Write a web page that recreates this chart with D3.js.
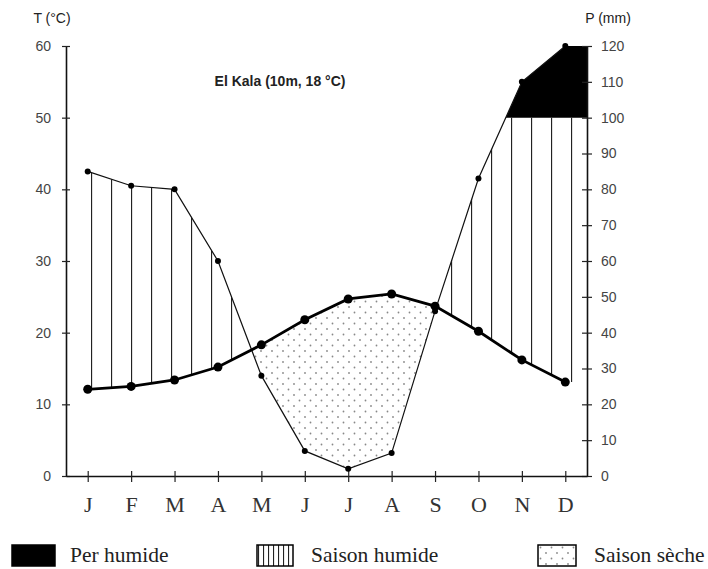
<!DOCTYPE html>
<html>
<head>
<meta charset="utf-8">
<script src="https://cdn.jsdelivr.net/npm/d3@7"></script>
<style>
  body { margin: 0; background: #fff; }
</style>
</head>
<body>
<div id="chart"></div>
<script>
let months = ['J', 'F', 'M', 'A', 'M', 'J', 'J', 'A', 'S', 'O', 'N', 'D']
let temperature = [12.1, 12.5, 13.4, 15.2, 18.3, 21.8, 24.7, 25.4, 23.7, 20.2, 16.2, 13.1]
let precipitation = [85, 81, 80, 60, 28, 7, 2, 6.4, 46, 83, 110, 120]
let tempTicks = [0, 10, 20, 30, 40, 50, 60]
let rainTicks = [0, 10, 20, 30, 40, 50, 60, 70, 80, 90, 100, 110, 120]
let legendLabels = ['Per humide', 'Saison humide', 'Saison sèche']

let sans = "'Liberation Sans', Arial, sans-serif"
let serif = "'Liberation Serif', 'Times New Roman', serif"

let margin = { top: 46, left: 66, right: 121, bottom: 93 }
let width = 708 - margin.left - margin.right
let height = 569 - margin.top - margin.bottom

let svg = d3
  .select('#chart')
  .append('svg')
  .attr('width', width + margin.left + margin.right)
  .attr('height', height + margin.top + margin.bottom)
  .style('font-family', sans)

let defs = svg.append('defs')

let g = svg.append('g').attr('transform', `translate(${margin.left},${margin.top})`)

let xScale = d3.scaleLinear().domain([-0.5, 11.5]).range([0, width])
let yTemp = d3.scaleLinear().domain([0, 60]).range([height, 0])
let yRain = d3.scaleLinear().domain([0, 120]).range([height, 0])

let points = months.map((m, i) => {
  return { i: i, t: temperature[i], p: precipitation[i] }
})
// fills run on to the right axis
let fillPoints = points.concat([
  { i: xScale.domain()[1], t: temperature[11], p: precipitation[11] }
])

// patterns
let hatch = defs
  .append('pattern')
  .attr('id', 'hatch')
  .attr('patternUnits', 'userSpaceOnUse')
  .attr('x', 25)
  .attr('width', 20)
  .attr('height', 10)
hatch
  .append('line')
  .attr('x1', 0.5)
  .attr('x2', 0.5)
  .attr('y1', 0)
  .attr('y2', 10)
  .attr('stroke', '#222')
  .attr('stroke-width', 1.3)

let hatchSmall = defs
  .append('pattern')
  .attr('id', 'hatch-small')
  .attr('patternUnits', 'userSpaceOnUse')
  .attr('x', 1)
  .attr('width', 5)
  .attr('height', 10)
hatchSmall
  .append('line')
  .attr('x1', 0.5)
  .attr('x2', 0.5)
  .attr('y1', 0)
  .attr('y2', 10)
  .attr('stroke', '#222')
  .attr('stroke-width', 1.2)

let dots = defs
  .append('pattern')
  .attr('id', 'dots')
  .attr('patternUnits', 'userSpaceOnUse')
  .attr('width', 11)
  .attr('height', 11)
dots
  .selectAll('circle')
  .data([[2.5, 2.5], [8, 8]])
  .enter()
  .append('circle')
  .attr('cx', d => d[0])
  .attr('cy', d => d[1])
  .attr('r', 0.9)
  .attr('fill', '#888')

// clip paths
let aboveTemp = d3
  .area()
  .x(d => xScale(d.i))
  .y0(d => yTemp(d.t))
  .y1(0)
let belowTemp = d3
  .area()
  .x(d => xScale(d.i))
  .y0(height)
  .y1(d => yTemp(d.t))

defs
  .append('clipPath')
  .attr('id', 'clip-above-t')
  .append('path')
  .attr('d', aboveTemp(fillPoints))
defs
  .append('clipPath')
  .attr('id', 'clip-below-t')
  .append('path')
  .attr('d', belowTemp(points))
defs
  .append('clipPath')
  .attr('id', 'clip-below-100')
  .append('rect')
  .attr('x', 0)
  .attr('width', width)
  .attr('y', yRain(100))
  .attr('height', height - yRain(100))
defs
  .append('clipPath')
  .attr('id', 'clip-above-100')
  .append('rect')
  .attr('x', 0)
  .attr('width', width)
  .attr('y', 0)
  .attr('height', yRain(100))

let underRain = d3
  .area()
  .x(d => xScale(d.i))
  .y0(height)
  .y1(d => yRain(d.p))
let overRain = d3
  .area()
  .x(d => xScale(d.i))
  .y0(d => yRain(d.p))
  .y1(0)

// saison humide
g.append('g')
  .attr('clip-path', 'url(#clip-below-100)')
  .append('g')
  .attr('clip-path', 'url(#clip-above-t)')
  .append('path')
  .attr('d', underRain(fillPoints))
  .attr('fill', 'url(#hatch)')

// per humide
g.append('g')
  .attr('clip-path', 'url(#clip-above-100)')
  .append('path')
  .attr('d', underRain(fillPoints))
  .attr('fill', 'black')

// saison seche
g.append('g')
  .attr('clip-path', 'url(#clip-below-t)')
  .append('path')
  .attr('d', overRain(points))
  .attr('fill', 'url(#dots)')

// axes
let leftAxis = d3
  .axisLeft(yTemp)
  .tickValues(tempTicks)
  .tickSize(4)
  .tickSizeOuter(0)
  .tickPadding(11)
g.append('g')
  .attr('class', 'axis')
  .call(leftAxis)

let rightAxis = d3
  .axisRight(yRain)
  .tickValues(rainTicks)
  .tickSize(5)
  .tickSizeOuter(0)
  .tickPadding(9)
g.append('g')
  .attr('class', 'axis')
  .attr('transform', `translate(${width},0)`)
  .call(rightAxis)

let bottomAxis = d3
  .axisBottom(xScale)
  .tickValues(d3.range(months.length))
  .tickFormat(i => months[i])
  .tickSize(6)
  .tickSizeOuter(0)
  .tickPadding(14)
g.append('g')
  .attr('class', 'axis x-axis')
  .attr('transform', `translate(0,${height})`)
  .call(bottomAxis)

g.selectAll('.axis .domain').attr('stroke', '#111').attr('stroke-width', 1.6)
g.selectAll('.axis .tick line').attr('stroke', '#222').attr('stroke-width', 1.2)
g.selectAll('.axis .tick text')
  .attr('font-size', 14)
  .attr('fill', '#444')
  .style('font-family', sans)

// ticks cross the axis lines
g.selectAll('.axis .tick line').each(function() {
  let tick = d3.select(this)
  if (tick.attr('x2')) tick.attr('x1', -tick.attr('x2'))
  if (tick.attr('y2')) tick.attr('y1', -5)
})

g.selectAll('.x-axis .tick text')
  .style('font-family', serif)
  .attr('font-size', 22)
  .attr('fill', '#333')

// rain line and dots
let rainLine = d3
  .line()
  .x(d => xScale(d.i))
  .y(d => yRain(d.p))
g.append('path')
  .datum(points)
  .attr('d', rainLine)
  .attr('fill', 'none')
  .attr('stroke', '#111')
  .attr('stroke-width', 1.2)

g.selectAll('.rain-dot')
  .data(points)
  .enter()
  .append('circle')
  .attr('class', 'rain-dot')
  .attr('cx', d => xScale(d.i))
  .attr('cy', d => yRain(d.p))
  .attr('r', 3)
  .attr('fill', 'black')

// temperature line and dots
let tempLine = d3
  .line()
  .x(d => xScale(d.i))
  .y(d => yTemp(d.t))
g.append('path')
  .datum(points)
  .attr('d', tempLine)
  .attr('fill', 'none')
  .attr('stroke', 'black')
  .attr('stroke-width', 2.8)

g.selectAll('.temp-dot')
  .data(points)
  .enter()
  .append('circle')
  .attr('class', 'temp-dot')
  .attr('cx', d => xScale(d.i))
  .attr('cy', d => yTemp(d.t))
  .attr('r', 4.5)
  .attr('fill', 'black')

// titles
svg
  .append('text')
  .text('T (°C)')
  .attr('x', 52)
  .attr('y', 23)
  .attr('text-anchor', 'middle')
  .attr('font-size', 14)
  .attr('fill', '#222')

svg
  .append('text')
  .text('P (mm)')
  .attr('x', 608)
  .attr('y', 23)
  .attr('text-anchor', 'middle')
  .attr('font-size', 14)
  .attr('fill', '#222')

svg
  .append('text')
  .text('El Kala (10m, 18 °C)')
  .attr('x', 280)
  .attr('y', 86)
  .attr('text-anchor', 'middle')
  .attr('font-size', 14)
  .attr('font-weight', 'bold')
  .attr('fill', '#222')

// legend
let legendX = [12, 257, 538]
let legendBoxW = [43, 36, 38]
let legendGap = [15, 18, 18]
let legendFills = ['black', 'url(#hatch-small)', 'url(#dots)']

let legend = svg
  .selectAll('.legend')
  .data(legendLabels)
  .enter()
  .append('g')
  .attr('class', 'legend')
  .attr('transform', (d, i) => `translate(${legendX[i]},545)`)

legend
  .append('rect')
  .attr('width', (d, i) => legendBoxW[i])
  .attr('height', 21)
  .attr('fill', (d, i) => legendFills[i])
  .attr('stroke', 'black')
  .attr('stroke-width', 1.5)

legend
  .append('text')
  .text(d => d)
  .attr('x', (d, i) => legendBoxW[i] + legendGap[i])
  .attr('y', 17)
  .style('font-family', serif)
  .attr('font-size', 21.5)
  .attr('fill', '#222')
</script>
</body>
</html>
